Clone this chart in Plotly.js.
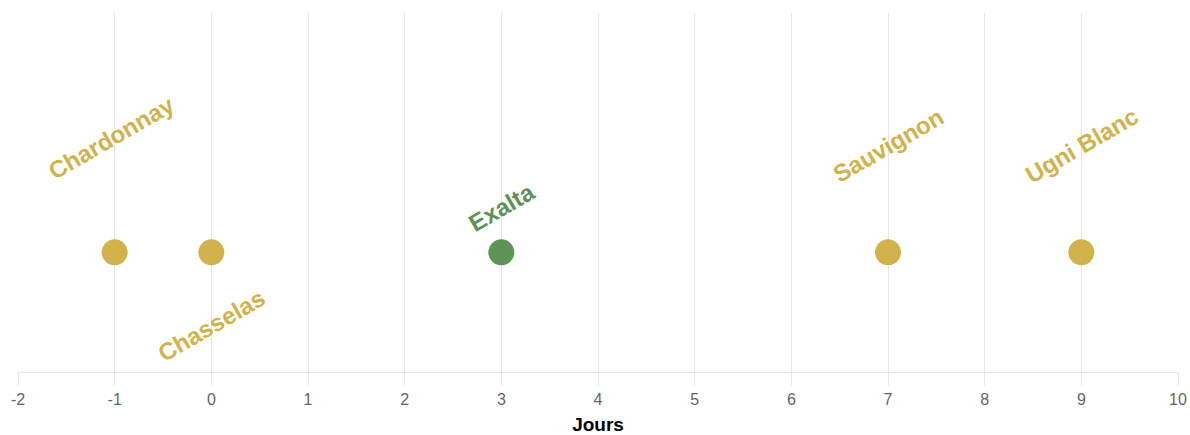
<!DOCTYPE html>
<html>
<head>
<meta charset="utf-8">
<script src="https://cdn.plot.ly/plotly-3.0.1.min.js"></script>
<style>html,body{margin:0;padding:0;background:#fff;}#chart{width:1190px;height:435px;}</style>
</head>
<body>
<div id="chart"></div>
<script>
const varieties = ["Chardonnay", "Chasselas", "Exalta", "Sauvignon", "Ugni Blanc"];
const days = [-1, 0, 3, 7, 9];
const level = [0, 0, 0, 0, 0];
const colors = ["#D2B24B", "#D2B24B", "#5E9256", "#D2B24B", "#D2B24B"];
const labelShift = [115, -73, 45, 107, 107];
const xTicks = [-2, -1, 0, 1, 2, 3, 4, 5, 6, 7, 8, 9, 10];

const trace = {
  type: "scatter", mode: "markers",
  x: days, y: level, text: varieties,
  marker: {size: 26, color: colors},
  hoverinfo: "text", showlegend: false
};

const annotations = varieties.map((v, i) => ({
  x: days[i], y: level[i], xref: "x", yref: "y",
  text: "<b>" + v + "</b>", showarrow: false, textangle: -30,
  yshift: labelShift[i], xshift: i === 0 ? -3 : 0,
  font: {family: "Liberation Sans, Arial, sans-serif", size: 24, color: colors[i]}
}));

Plotly.newPlot("chart", [trace], {
  width: 1190, height: 435,
  margin: {l: 18, r: 12, t: 13, b: 63},
  paper_bgcolor: "#fff", plot_bgcolor: "#fff",
  xaxis: {
    range: [-2, 10], tickvals: xTicks, ticktext: xTicks.map(String),
    showgrid: true, gridcolor: "#e6e6e6", gridwidth: 1,
    zeroline: false, showline: true, linecolor: "#e6e6e6", linewidth: 1,
    ticks: "outside", ticklen: 13, tickcolor: "#e6e6e6",
    tickfont: {family: "Liberation Sans, Arial, sans-serif", size: 16, color: "#666"},
    title: {text: "<b>Jours</b>", standoff: 12, font: {family: "Liberation Sans, Arial, sans-serif", size: 19, color: "#000"}}
  },
  yaxis: {range: [-1, 2], showgrid: false, zeroline: false, showticklabels: false, showline: false, ticks: ""},
  annotations: annotations
}, {displayModeBar: false, staticPlot: true});
</script>
</body>
</html>
